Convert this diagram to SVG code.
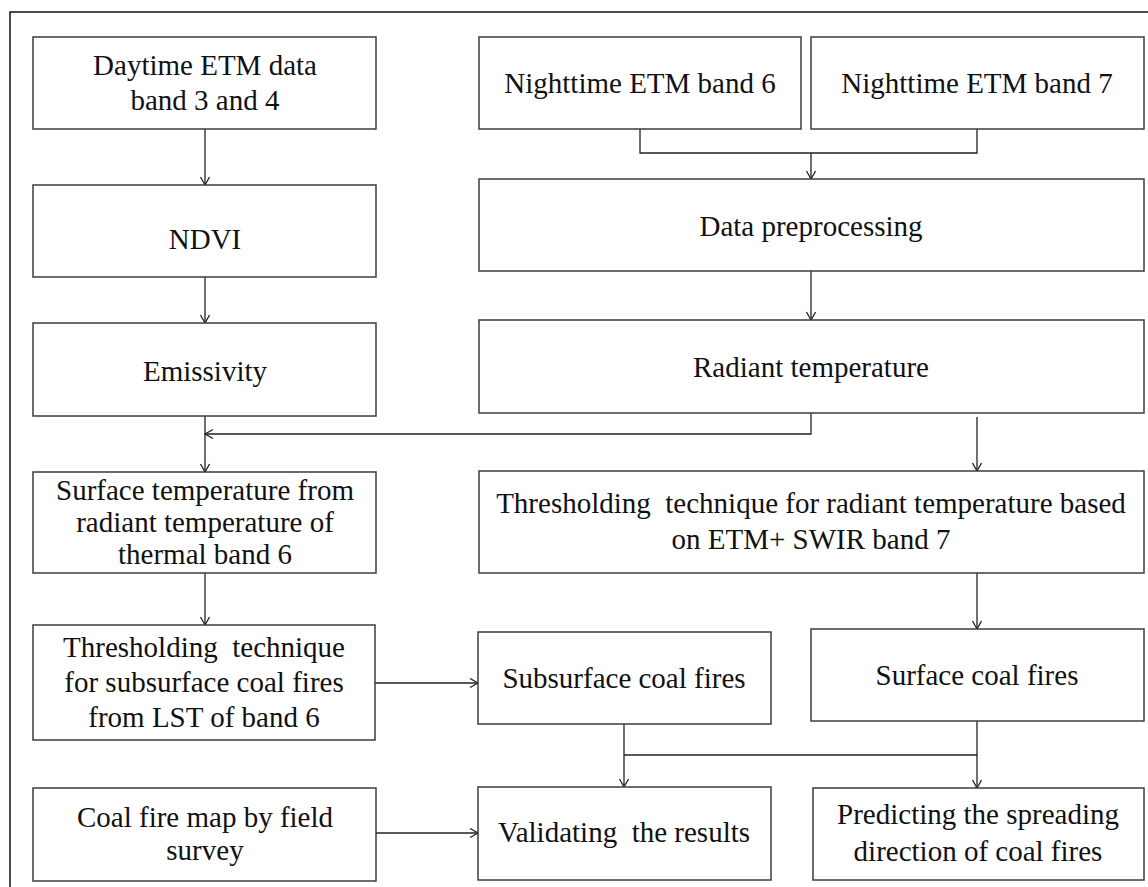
<svg xmlns="http://www.w3.org/2000/svg" width="1148" height="887" viewBox="0 0 1148 887">
<style>
.box{fill:#fff;stroke:#3c3c3c;stroke-width:1.5}
.t{font-family:"Liberation Serif","Times New Roman",serif;font-size:29px;fill:#111;text-anchor:middle;white-space:pre}
.c{fill:none;stroke:#222;stroke-width:1.3}
</style>
<defs>
<marker id="arr" markerUnits="userSpaceOnUse" markerWidth="12" markerHeight="12" refX="9" refY="5" orient="auto">
<path d="M1,0.5 L9,5 L1,9.5" fill="none" stroke="#222" stroke-width="1.3"/>
</marker>
</defs>
<rect x="0" y="0" width="1148" height="887" fill="#fff"/>
<rect x="10" y="12" width="1200" height="1000" fill="none" stroke="#111" stroke-width="1.5"/>

<g id="connectors">
<path class="c" d="M205,129 V185" marker-end="url(#arr)"/>
<path class="c" d="M205,277 V323" marker-end="url(#arr)"/>
<path class="c" d="M205,416 V472" marker-end="url(#arr)"/>
<path class="c" d="M811,413 V434 H205" marker-end="url(#arr)"/>
<path class="c" d="M640,129 V153 H977 V129"/>
<path class="c" d="M811,153 V179" marker-end="url(#arr)"/>
<path class="c" d="M811,271 V320" marker-end="url(#arr)"/>
<path class="c" d="M977,417 V471" marker-end="url(#arr)"/>
<path class="c" d="M205,573 V625" marker-end="url(#arr)"/>
<path class="c" d="M977,573 V629" marker-end="url(#arr)"/>
<path class="c" d="M375,683 H478" marker-end="url(#arr)"/>
<path class="c" d="M376,833 H478" marker-end="url(#arr)"/>
<path class="c" d="M624,724 V787" marker-end="url(#arr)"/>
<path class="c" d="M624,755 H977"/>
<path class="c" d="M977,721 V788" marker-end="url(#arr)"/>
</g>

<g id="daytime">
<rect class="box" x="33" y="37" width="343" height="92"/>
<text class="t" x="205" y="75">Daytime ETM data</text>
<text class="t" x="205" y="110">band 3 and 4</text>
</g>
<g id="ndvi">
<rect class="box" x="33" y="185" width="343" height="92"/>
<text class="t" x="205" y="249">NDVI</text>
</g>
<g id="emissivity">
<rect class="box" x="33" y="323" width="343" height="93"/>
<text class="t" x="205" y="381">Emissivity</text>
</g>
<g id="surface-temp">
<rect class="box" x="33" y="472" width="343" height="101"/>
<text class="t" x="205" y="500">Surface temperature from</text>
<text class="t" x="205" y="532">radiant temperature of</text>
<text class="t" x="205" y="564">thermal band 6</text>
</g>
<g id="threshold-left">
<rect class="box" x="33" y="625" width="342" height="115"/>
<text class="t" x="204" y="657">Thresholding  technique</text>
<text class="t" x="204" y="692">for subsurface coal fires</text>
<text class="t" x="204" y="727">from LST of band 6</text>
</g>
<g id="coal-fire-map">
<rect class="box" x="33" y="788" width="343" height="93"/>
<text class="t" x="205" y="827">Coal fire map by field</text>
<text class="t" x="205" y="860">survey</text>
</g>
<g id="night6">
<rect class="box" x="479" y="37" width="322" height="92"/>
<text class="t" x="640" y="93">Nighttime ETM band 6</text>
</g>
<g id="night7">
<rect class="box" x="811" y="37" width="333" height="92"/>
<text class="t" x="977" y="93">Nighttime ETM band 7</text>
</g>
<g id="preprocessing">
<rect class="box" x="479" y="179" width="665" height="92"/>
<text class="t" x="811" y="236">Data preprocessing</text>
</g>
<g id="radiant">
<rect class="box" x="479" y="320" width="665" height="93"/>
<text class="t" x="811" y="377">Radiant temperature</text>
</g>
<g id="threshold-right">
<rect class="box" x="479" y="471" width="665" height="102"/>
<text class="t" x="811" y="513">Thresholding  technique for radiant temperature based</text>
<text class="t" x="811" y="549">on ETM+ SWIR band 7</text>
</g>
<g id="subsurface">
<rect class="box" x="478" y="632" width="293" height="92"/>
<text class="t" x="624" y="688">Subsurface coal fires</text>
</g>
<g id="surface-fires">
<rect class="box" x="811" y="629" width="333" height="92"/>
<text class="t" x="977" y="685">Surface coal fires</text>
</g>
<g id="validating">
<rect class="box" x="478" y="787" width="293" height="93"/>
<text class="t" x="624" y="842">Validating  the results</text>
</g>
<g id="predicting">
<rect class="box" x="813" y="788" width="331" height="92"/>
<text class="t" x="978" y="824">Predicting the spreading</text>
<text class="t" x="978" y="861">direction of coal fires</text>
</g>
</svg>
